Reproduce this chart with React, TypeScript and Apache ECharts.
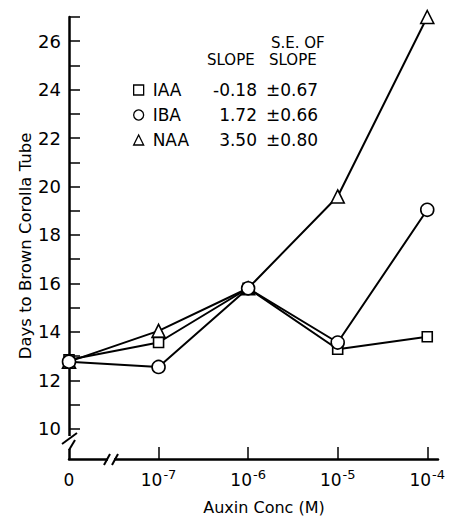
import React, { useEffect, useRef } from "react";
import * as echarts from "echarts";

const xPositions = [0, 1, 2, 3, 4];
const xTickLabels = ["0", "10|-7", "10|-6", "10|-5", "10|-4"];
const iaa = [12.85, 13.56, 15.8, 13.28, 13.8];
const iba = [12.77, 12.55, 15.8, 13.56, 19.04];
const naa = [12.77, 14.04, 15.8, 19.59, 27.0];
const seriesNames = ["IAA", "IBA", "NAA"];
const slopes = ["-0.18", "1.72", "3.50"];
const slopeSE = ["±0.67", "±0.66", "±0.80"];
const yLabelValues = [10, 12, 14, 16, 18, 20, 22, 24, 26];
const yTickValues = [10, 11, 12, 13, 14, 15, 16, 17, 18, 19, 20, 21, 22, 23, 24, 25, 26, 27];

const FONT = "DejaVu Sans";

export default function App() {
  const ref = useRef<HTMLDivElement>(null);
  useEffect(() => {
    if (!ref.current) return;
    const chart = echarts.init(ref.current, null, { renderer: "svg" });
    const allSeries = [iaa, iba, naa];
    const symbols = ["rect", "circle", "triangle"];
    const sizes = [10, 13, 13];
    const rowY = [90, 115, 140];
    const columnTexts: any[] = [];
    slopes.forEach((s, i) => {
      columnTexts.push({
        type: "text",
        x: 257,
        y: rowY[i],
        style: { text: s, fontFamily: FONT, fontSize: 17, fill: "#000", align: "right", verticalAlign: "middle" },
      });
      columnTexts.push({
        type: "text",
        x: 266,
        y: rowY[i],
        style: { text: slopeSE[i], fontFamily: FONT, fontSize: 17, fill: "#000", align: "left", verticalAlign: "middle" },
      });
    });
    chart.setOption({
      animation: false,
      backgroundColor: "#fff",
      grid: { left: 69, right: 14, top: 17, bottom: 61, containLabel: false },
      xAxis: {
        type: "value",
        min: 0,
        max: 4.12,
        splitLine: { show: false },
        axisLine: { lineStyle: { color: "#000", width: 2.5 } },
        axisTick: { inside: true, length: 12, customValues: [1, 2, 3, 4], lineStyle: { color: "#000", width: 1.5 } },
        axisLabel: {
          customValues: xPositions,
          margin: 9,
          formatter: (v: number) => {
            const idx = xPositions.indexOf(Math.round(v));
            const t = xTickLabels[idx] ?? "";
            const parts = t.split("|");
            if (parts.length === 1) return "{b|" + parts[0] + "}";
            return "{b|" + parts[0] + "}{s|" + parts[1] + "}";
          },
          rich: {
            b: { fontFamily: FONT, fontSize: 17, color: "#000", lineHeight: 20, verticalAlign: "bottom" },
            s: { fontFamily: FONT, fontSize: 13, color: "#000", lineHeight: 20, verticalAlign: "top", padding: [0, 0, 9, 1] },
          },
        },
      },
      yAxis: {
        type: "value",
        min: 8.75,
        max: 27,
        splitLine: { show: false },
        axisLine: { lineStyle: { color: "#000", width: 2.5 } },
        axisTick: { inside: true, length: 11, customValues: yTickValues, lineStyle: { color: "#000", width: 1.5 } },
        axisLabel: {
          customValues: yLabelValues,
          margin: 8,
          fontFamily: FONT,
          fontSize: 18,
          color: "#000",
        },
      },
      legend: {
        left: 133,
        top: 80,
        orient: "vertical",
        itemWidth: 10,
        itemHeight: 10,
        itemGap: 5,
        padding: 0,
        data: seriesNames.map((n, i) => ({ name: n, icon: symbols[i] })),
        itemStyle: { color: "#fff", borderColor: "#000", borderWidth: 1.3 },
        textStyle: { fontFamily: FONT, fontSize: 17, color: "#000", lineHeight: 20, padding: [0, 0, 0, 4] },
      },
      graphic: [
        { type: "text", left: 207, top: 52, style: { text: "SLOPE", fontFamily: FONT, fontSize: 15, fill: "#000" } },
        { type: "text", left: 271, top: 35, style: { text: "S.E. OF", fontFamily: FONT, fontSize: 15, fill: "#000" } },
        { type: "text", left: 269, top: 52, style: { text: "SLOPE", fontFamily: FONT, fontSize: 15, fill: "#000" } },
        ...columnTexts,
        {
          type: "text",
          x: 25,
          y: 246,
          rotation: Math.PI / 2,
          style: { text: "Days to Brown Corolla Tube", fontFamily: FONT, fontSize: 16.5, fill: "#000", align: "center", verticalAlign: "middle" },
        },
        {
          type: "text",
          x: 264,
          y: 507,
          style: { text: "Auxin Conc (M)", fontFamily: FONT, fontSize: 16, fill: "#000", align: "center", verticalAlign: "middle" },
        },
        // y-axis break
        { type: "rect", shape: { x: 64, y: 436, width: 10, height: 13 }, style: { fill: "#fff" }, z: 100 },
        { type: "line", shape: { x1: 77, y1: 433, x2: 62, y2: 444 }, style: { stroke: "#000", lineWidth: 2 }, z: 101 },
        { type: "line", shape: { x1: 75, y1: 440, x2: 69, y2: 450 }, style: { stroke: "#000", lineWidth: 2 }, z: 101 },
        // x-axis break
        { type: "rect", shape: { x: 108, y: 455, width: 6, height: 9 }, style: { fill: "#fff" }, z: 100 },
        { type: "line", shape: { x1: 110, y1: 454, x2: 104, y2: 465 }, style: { stroke: "#000", lineWidth: 2 }, z: 101 },
        { type: "line", shape: { x1: 118, y1: 454, x2: 112, y2: 465 }, style: { stroke: "#000", lineWidth: 2 }, z: 101 },
      ],
      series: allSeries.map((vals, i) => ({
        type: "line",
        name: seriesNames[i],
        symbol: symbols[i],
        symbolSize: sizes[i],
        showAllSymbol: true,
        lineStyle: { color: "#000", width: 2 },
        itemStyle: { color: "#fff", borderColor: "#000", borderWidth: 1.6 },
        z: [3, 4, 2][i],
        data: vals.map((v, j) => [xPositions[j], v]),
      })),
    });
    return () => chart.dispose();
  }, []);
  return <div ref={ref} style={{ position: "absolute", left: 0, top: 0, width: 452, height: 520 }} />;
}
